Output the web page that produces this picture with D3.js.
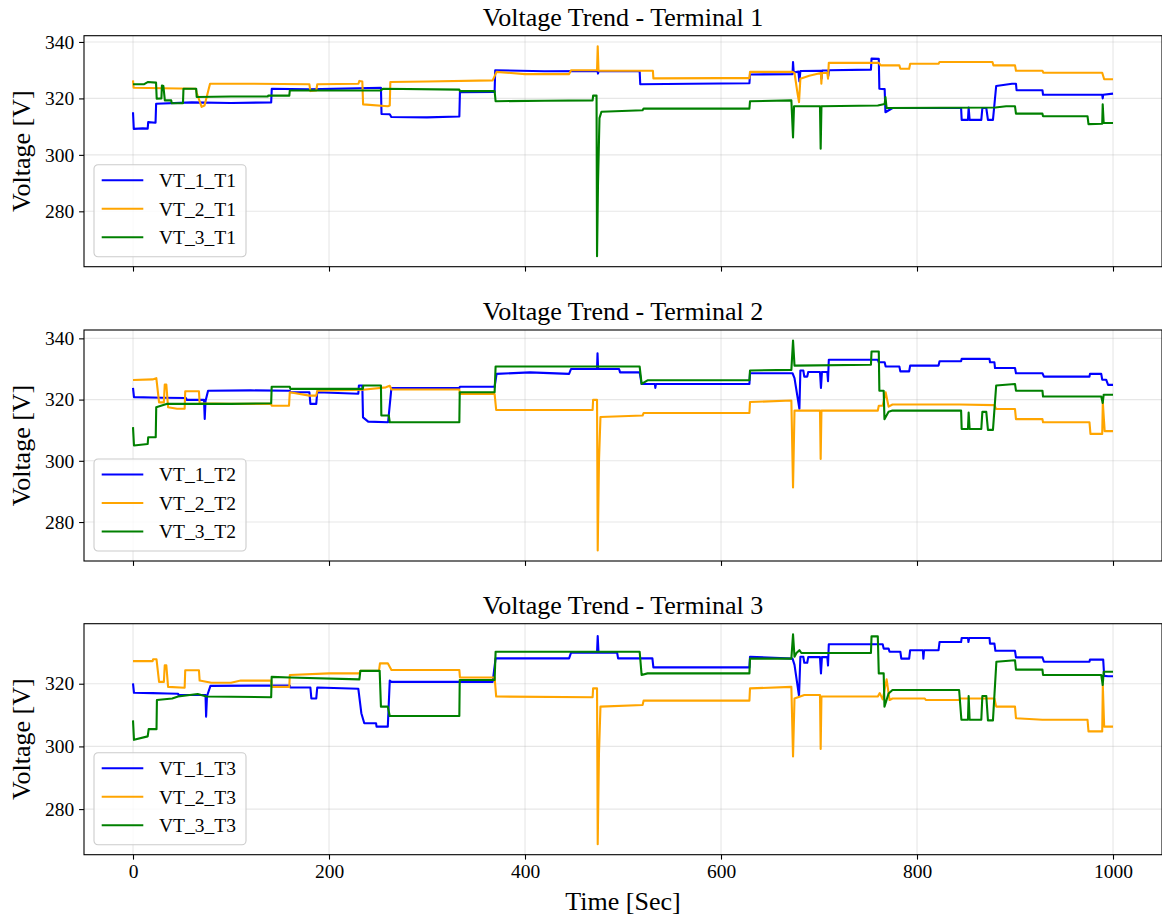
<!DOCTYPE html>
<html>
<head>
<meta charset="utf-8">
<script src="https://cdn.jsdelivr.net/npm/d3@7/dist/d3.min.js"></script>
<style>
	body { margin: 0; background: #fff; }
	text { font-family: "Liberation Serif", "Times New Roman", serif; fill: #000; }
</style>
</head>
<body>
<svg id="chart" width="1162" height="918"></svg>
<script>

// data: [time (s), voltage (V)]
const x_ticks = [0, 200, 400, 600, 800, 1000]
const y_ticks = [280, 300, 320, 340]
const panel_titles = ["Voltage Trend - Terminal 1", "Voltage Trend - Terminal 2", "Voltage Trend - Terminal 3"]
const series_names = [["VT_1_T1", "VT_2_T1", "VT_3_T1"], ["VT_1_T2", "VT_2_T2", "VT_3_T2"], ["VT_1_T3", "VT_2_T3", "VT_3_T3"]]
const series_colors = ["#0000ff", "#ffa500", "#008000"]

const vt1_t1 = [[0,315.1],[0.8,309.2],[10,309.4],[15,309.3],[15.5,311.6],[23,311.4],[23.6,318.1],[60,318.6],[100,318.4],[141,318.6],[141.6,323.4],[180,323.2],[253,323.8],[253.6,314.5],[262,314.4],[263.6,313.4],[300,313.3],[333,313.6],[333.6,322.2],[369,322.3],[369.6,330],[420,329.6],[474,329.7],[474.5,328.8],[475,329.7],[517,329.6],[517.6,325],[570,325.2],[629,325.4],[629.6,328.5],[673,328.6],[673.5,332.9],[674.2,329.2],[679,329.5],[680,326],[681,329.7],[702,329.8],[702.5,327],[703.2,329.9],[709,329.9],[709.5,328],[710.2,330],[753,330.2],[753.6,334.1],[761,334],[761.6,323.4],[767,323.3],[767.8,315.1],[775,316.6],[845,316.6],[845.6,312.4],[852,312.4],[852.7,316.8],[853.7,312.4],[865.6,312.4],[866.7,316.6],[870.7,316.6],[872.4,312.4],[877.5,312.4],[880.8,324.4],[897,325.2],[901,325.2],[901.6,322.9],[928,322.9],[928.6,321.3],[989,321.3],[989.5,320],[990,321.3],[1000,321.7]]
const vt2_t1 = [[0,326.4],[0.6,323.8],[30,323.6],[64,323.4],[65,322],[70,317],[73,317.5],[78.6,325.2],[120,325.2],[180,325],[181,322.6],[187,322.8],[188,325],[230,325.2],[231,326.2],[234,326],[234.8,317.9],[260,317.2],[262,317.5],[262.6,325.8],[300,326],[367,326.4],[371,329.4],[400,328.6],[445,328.6],[447,330],[473.5,330],[474.2,338.5],[475,329.8],[530.5,329.8],[531,327.1],[600,327.2],[629,327.2],[629.6,329.4],[673,329.4],[675,329],[678,322],[679.6,318.7],[681,327],[690,328],[702,329],[702.4,325.2],[703,329],[708.5,329],[709.2,327],[710,332.6],[761,332.6],[763,331.7],[782,331.7],[783,330.5],[792,330.5],[793,332.3],[822,332.3],[823,332.9],[877,332.9],[878,331.7],[900,331.7],[901,329.8],[928,329.8],[929,329.1],[989,329.1],[991,326.8],[1000,326.8]]
const vt3_t1 = [[0,325],[11,325],[15,325.8],[23.5,325.6],[24.2,319.9],[29,320],[29.5,324.6],[31,324.4],[32.5,319.3],[39,319.3],[39.5,318.3],[51,318.3],[51.5,323.4],[64.5,323.4],[65,320.5],[100,320.7],[137.5,320.7],[138,321],[159.5,321],[160,322.8],[253,322.8],[255,323.4],[333,323.1],[333.5,322.6],[369,322.6],[370,319],[420,319.2],[469,319.3],[469.5,321],[473,321],[473.5,264.1],[474.5,290],[476,313],[478,315.3],[520,315.8],[521,316.4],[629,316.4],[629.6,319],[671.8,319.3],[673.5,306.2],[674.5,317.2],[701,317.2],[701.7,302.2],[702.5,317.2],[760,317.5],[767,318],[767.8,320.5],[769,316.6],[880,316.8],[891,317.2],[900,317.2],[901,314.6],[928,314.6],[928.6,313.7],[974,313.7],[975,310.9],[989,311],[989.5,317.9],[990.5,311.3],[1000,311.3]]

const vt1_t2 = [[0,323.8],[1,320.8],[30,320.6],[54,320.5],[55,319.9],[72.5,319.9],[73.2,313.7],[74,319.5],[76.6,322.9],[120,323],[160,322.9],[160.5,322.4],[180,322.4],[181,318.6],[187,318.6],[188,322.4],[229.9,321.9],[230.5,324.6],[234,324.6],[234.7,314.2],[240,312.8],[260.3,312.6],[263.7,323.8],[333,323.8],[333.6,324.2],[369,324.2],[371,328.4],[405,328.9],[445,328.4],[447,330],[473.5,330],[474,335.1],[474.6,330],[496,330],[497,328.9],[517,328.9],[519,325.1],[532.5,325.1],[533,323.8],[533.6,325.1],[629,325.1],[629.6,328.6],[673,328.6],[675,327],[680,317],[681,329.5],[684,329.5],[685,327.5],[688,327.5],[689,329],[701,329],[702,323.8],[703,329],[708.5,329],[709.2,326],[710,333],[760,333],[761,332.2],[767,332.2],[768,330.8],[782,330.8],[783,329.2],[792,329.2],[793,331.1],[822,331.1],[823,332.5],[845,332.5],[845.6,333.3],[874,333.3],[874.5,332.2],[879,332.2],[879.6,330.3],[900,330.3],[901,328.6],[928,328.6],[929.5,327.5],[976,327.5],[976.5,328.4],[988,328.4],[989,326.5],[993,326.5],[995,324.8],[1000,324.8]]
const vt2_t2 = [[0,326.4],[20,326.6],[23.8,327],[26.6,319.1],[31.5,319.1],[32.4,324.9],[34,324.9],[35.8,317.5],[45,317],[52.7,317],[53.3,322.7],[67.3,322.7],[68,318.8],[100,318.6],[141,318.6],[141.5,318],[159.2,318],[160,322.4],[180,321.3],[187,321.3],[188,322.9],[234.7,323.2],[258,324],[262,324.5],[263.7,323.3],[333,323.3],[333.6,321.8],[369,321.8],[370.6,316.6],[469,316.6],[469.5,319.9],[473.5,319.9],[474.2,270.7],[475.5,300],[477,314.3],[520,314.8],[521,315.6],[629,315.6],[629.6,319.2],[671.8,319.7],[673.5,291.3],[675,316.4],[701,316.4],[701.7,300.6],[702.5,316.4],[760,316.4],[761,318],[765,318],[768,322.4],[771,317.7],[775,318.4],[843,318.4],[879,318.2],[880.8,316.9],[900,316.9],[901,313.6],[928,313.6],[928.6,312.6],[976,312.6],[977,308.8],[989,308.8],[989.6,319.1],[991.5,309.7],[1000,309.7]]
const vt3_t2 = [[0,311],[1,305],[15,305.5],[15.5,307.7],[23.2,307.7],[23.7,317.5],[35,318.6],[100,318.6],[141,318.8],[141.5,324.2],[160,324.2],[160.5,323.5],[234.5,323.5],[235,324.6],[253,324.6],[253.4,314.8],[261,314.8],[262,312.6],[333,312.6],[333.4,322.4],[369,322.4],[370,330.8],[517,330.8],[519,325.1],[525,326.3],[629,326.3],[629.6,329.5],[671.8,329.7],[673.5,339.3],[675,331.1],[753,331.4],[753.6,335.7],[761,335.7],[761.6,322.9],[766,322.9],[766.8,313.6],[771,316],[775,316.4],[845,316.4],[845.6,310.4],[852,310.4],[852.7,315.8],[853.7,310.4],[865.6,310.4],[866.7,316],[870.7,316],[872.4,310.1],[877.5,310.1],[880.8,324.6],[900,325.1],[901,322.9],[928,322.9],[928.6,321],[988,321],[989.5,318.9],[990.5,321.6],[1000,321.6]]

const vt1_t3 = [[0,320.1],[1,317.1],[20,317],[35,316.9],[46,316.8],[46.5,316.4],[74,316.4],[74.6,309.5],[75.5,316],[79,319.3],[120,319.4],[160,319.4],[160.5,318.8],[181,318.8],[182,315.3],[187,315.3],[188,318.8],[229.9,318.4],[233,310.6],[236,307.4],[248,307.4],[248.5,306.3],[260,306.3],[262,321],[263.7,320.6],[367,320.6],[370,328.1],[445,328.1],[447,329.9],[473.5,329.9],[474.2,335.2],[475,329.9],[494,329.9],[495,328.1],[530,328.1],[531,325.2],[629,325.2],[629.6,328.6],[673,328],[675,326],[679.6,316.1],[681,328.6],[684,328.6],[685,326.7],[688,326.7],[689,328.5],[701,328.5],[702,323.3],[703,328.5],[708.5,328.5],[709.2,325.8],[710,332.6],[765,332.6],[766,331.2],[771,331.2],[772,330.2],[783,330.2],[784,328],[792,328],[793,330.7],[806,330.7],[806.5,328],[807.2,330.7],[822,330.7],[823,333.3],[845,333.3],[845.6,334.6],[852,334.6],[852.5,333.3],[853.2,334.6],[874,334.6],[874.5,332.8],[879,332.8],[880,330.5],[900,330.5],[901,328.4],[928,328.4],[929.5,327],[976,327],[976.5,327.7],[990,327.7],[991,322.5],[995,322.4],[1000,322.4]]
const vt2_t3 = [[0,327.2],[20,327.2],[20.5,327.8],[24,327.8],[26.6,320.6],[31.5,320.6],[32.4,325.9],[34,325.9],[35.8,319],[52.7,318.7],[53.3,324.3],[67.3,324.3],[68,321],[80,320.3],[100,320.3],[110,321],[141,321],[141.5,319],[159.5,319],[160,322.8],[200,323.3],[231,323.3],[232,324.1],[251,324.1],[252,326.5],[260,326.5],[263.7,324.4],[333,324.4],[333.6,322],[369,322],[370.6,315.9],[469,315.7],[469.5,318.5],[473.5,318.5],[474.2,268.8],[475.5,298],[477,312.7],[520,313.2],[521,314.6],[629,314.6],[629.6,318.5],[671.8,319],[673.5,296.8],[675,315.3],[685,316.4],[701,316.4],[701.7,299.2],[702.5,315.9],[760,315.9],[762,317],[765,315],[769,321.4],[772,314.8],[775,315.3],[808,315.3],[809,314.8],[843,314.8],[844,315.3],[879,315.3],[880.8,312.7],[900,312.7],[901,309],[928,308.5],[974,308.5],[975,304.8],[989,304.8],[989.6,319.6],[991,306.3],[1000,306.3]]
const vt3_t3 = [[0,308.3],[1,302.1],[15,303.2],[16,305.5],[24,305.5],[24.4,314.8],[40,315.3],[46,315.9],[66,316.7],[75,315.9],[141,315.7],[141.5,322.2],[160,322],[231,321.4],[232,324.1],[251.7,324.1],[253,312.7],[260,312.7],[262,309.7],[333,309.7],[333.4,321.2],[369,321.2],[370,330.2],[517,330.2],[519,322.8],[525,323.3],[629,323.3],[629.6,328],[671.8,328],[673.5,335.8],[675,328.6],[677,329.8],[680,330.7],[682,329.8],[753,329.8],[753.6,335.1],[760,335.1],[761,323.3],[766,323.3],[766.8,312.7],[771,316.9],[775,318],[843,318],[845.3,308.5],[852,308.5],[852.7,316.1],[853.7,308.5],[865.6,308.5],[866.7,316.1],[870.7,316.1],[872.4,308.3],[877.5,308.3],[881,327],[900,327.5],[901,324.5],[928,324.5],[928.6,322.8],[988,322.8],[989.5,319.6],[990.5,323.8],[1000,323.8]]

const panel_series = [[vt1_t1, vt2_t1, vt3_t1], [vt1_t2, vt2_t2, vt3_t2], [vt1_t3, vt2_t3, vt3_t3]]

// layout
const width = 1162, height = 918
const plot_left = 84, plot_right = 1162
const panel_tops = [35.7, 330, 623.7]
const panel_h = 231
const tick_font = "19.5px"
const label_font = "26px"

const svg = d3.select("#chart")
svg.append("rect").attr("width", width).attr("height", height).attr("fill", "#fff")

const x = d3.scaleLinear().domain([-50, 1050]).range([plot_left, plot_right])

function draw_panel(idx) {
	const top = panel_tops[idx]
	const bottom = top + panel_h
	const series = panel_series[idx]

	// matplotlib style autoscale: data extent + 5% margin
	const vals = series.flat().map(d => d[1])
	const ext = d3.extent(vals)
	const pad = (ext[1] - ext[0]) * 0.05
	const y = d3.scaleLinear().domain([ext[0] - pad, ext[1] + pad]).range([bottom, top])
	const yt = y_ticks.filter(v => v >= y.domain()[0] && v <= y.domain()[1])

	const g = svg.append("g").classed("panel", true)

	// grid
	g.append("g").selectAll("line.vgrid").data(x_ticks).join("line")
		.attr("x1", d => x(d)).attr("x2", d => x(d))
		.attr("y1", top).attr("y2", bottom)
		.attr("stroke", "#b0b0b0").attr("stroke-opacity", 0.3).attr("stroke-width", 1.1)
	g.append("g").selectAll("line.hgrid").data(yt).join("line")
		.attr("x1", plot_left).attr("x2", plot_right)
		.attr("y1", d => y(d)).attr("y2", d => y(d))
		.attr("stroke", "#b0b0b0").attr("stroke-opacity", 0.3).attr("stroke-width", 1.1)

	// lines
	const clip_id = "clip" + idx
	g.append("clipPath").attr("id", clip_id).append("rect")
		.attr("x", plot_left).attr("y", top)
		.attr("width", plot_right - plot_left).attr("height", panel_h)

	const line = d3.line().x(d => x(d[0])).y(d => y(d[1]))
	g.append("g").attr("clip-path", "url(#" + clip_id + ")")
		.selectAll("path").data(series).join("path")
		.attr("d", d => line(d))
		.attr("fill", "none")
		.attr("stroke", (d, i) => series_colors[i])
		.attr("stroke-width", 2.1)
		.attr("stroke-linejoin", "round")

	// axes
	const xa = d3.axisBottom(x).tickValues(x_ticks).tickSize(4.9).tickPadding(4.9).tickFormat(d3.format("d"))
	if (idx < 2) xa.tickFormat("")
	g.append("g").attr("transform", "translate(0," + bottom + ")").call(xa)
		.call(a => a.select(".domain").remove())
		.attr("font-family", null).attr("font-size", tick_font)

	const ya = d3.axisLeft(y).tickValues(yt).tickSize(4.9).tickPadding(4.9)
	g.append("g").attr("transform", "translate(" + plot_left + ",0)").call(ya)
		.call(a => a.select(".domain").remove())
		.attr("font-family", null).attr("font-size", tick_font)

	g.selectAll(".tick line").attr("stroke", "#000").attr("stroke-width", 1.1)

	// frame
	g.append("rect")
		.attr("x", plot_left).attr("y", top)
		.attr("width", plot_right - plot_left).attr("height", panel_h)
		.attr("fill", "none").attr("stroke", "#000").attr("stroke-width", 1.1)

	// title + y label
	g.append("text")
		.text(panel_titles[idx])
		.attr("x", (plot_left + plot_right) / 2)
		.attr("y", top - 10)
		.attr("text-anchor", "middle")
		.attr("font-size", label_font)

	g.append("text")
		.text("Voltage [V]")
		.attr("transform", "translate(29.5," + (top + panel_h / 2) + ") rotate(-90)")
		.attr("text-anchor", "middle")
		.attr("font-size", label_font)

	// legend, lower left
	const lg_w = 152, lg_h = 92
	const legend = g.append("g")
		.attr("transform", "translate(94," + (bottom - 10 - lg_h) + ")")
	legend.append("rect")
		.attr("width", lg_w).attr("height", lg_h).attr("rx", 4)
		.attr("fill", "#fff").attr("fill-opacity", 0.8)
		.attr("stroke", "#cccccc").attr("stroke-width", 1.1)
	series_names[idx].forEach((name, i) => {
		const ly = 15.5 + i * 28.5
		legend.append("line")
			.attr("x1", 7.7).attr("x2", 49.3)
			.attr("y1", ly).attr("y2", ly)
			.attr("stroke", series_colors[i]).attr("stroke-width", 2.1)
		legend.append("text")
			.text(name)
			.attr("x", 65).attr("y", ly)
			.attr("dy", "0.35em")
			.attr("font-size", tick_font)
	})
}

[0, 1, 2].forEach(draw_panel)

svg.append("text")
	.text("Time [Sec]")
	.attr("x", (plot_left + plot_right) / 2)
	.attr("y", 910)
	.attr("text-anchor", "middle")
	.attr("font-size", label_font)

</script>
</body>
</html>
